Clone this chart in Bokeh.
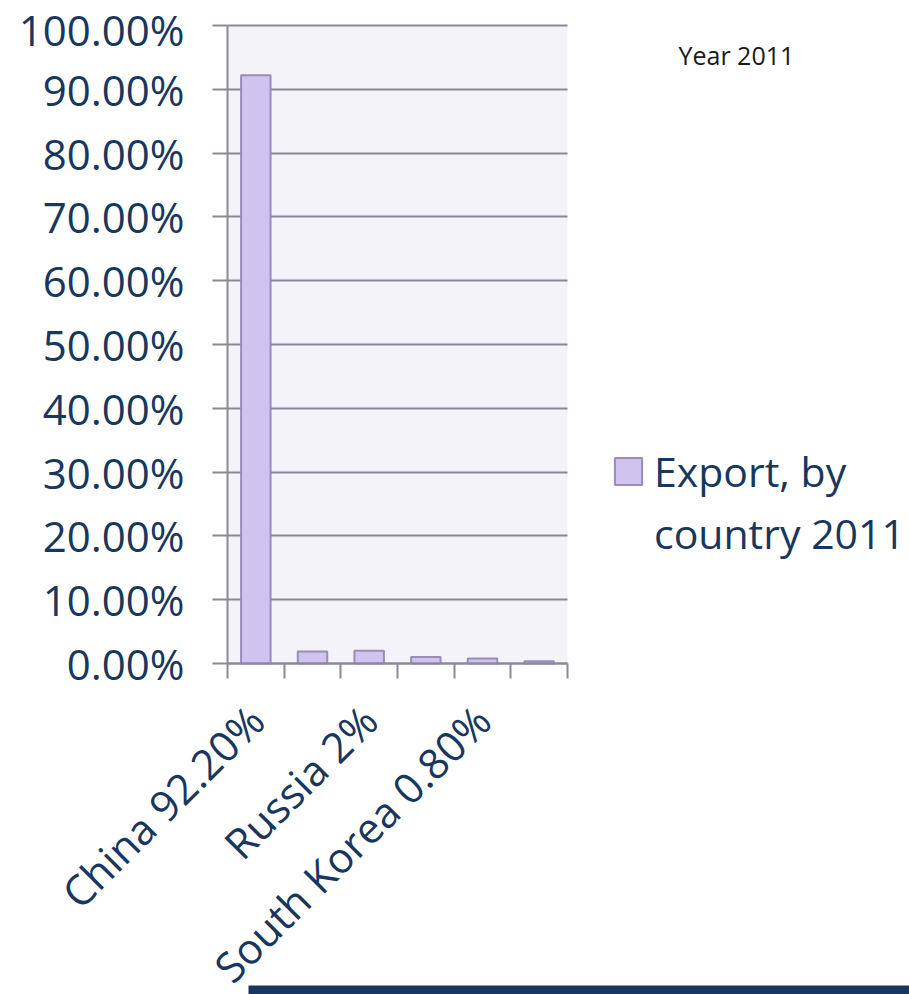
from math import pi
from bokeh.plotting import figure
from bokeh.models import (FixedTicker, NumeralTickFormatter, Legend, LegendItem,
                          Label, BoxAnnotation, Range1d, ColumnDataSource)
from bokeh.embed import file_html
from bokeh.resources import INLINE

# ---- data ----
cat_labels = ["China 92.20%", "", "Russia 2%", "", "South Korea 0.80%", ""]
export_share = [0.922, 0.019, 0.020, 0.010, 0.008, 0.0035]
y_ticks = [0.0, 0.1, 0.2, 0.3, 0.4, 0.5, 0.6, 0.7, 0.8, 0.9, 1.0]
series_lines = ["Export, by", "country 2011"]
note_text = "Year 2011"

TEXT = "#17375e"
GRAY = "#8a8a96"
FONT = "Open Sans"

# ---- layout (pixels) ----
W, H = 909, 994
LEFT, TOP = 227, 25       # position of the plot area's top-left corner
n = len(cat_labels)
CAT_PX = 340 / n          # width of one category
UNIT_PX = 638             # height of 100 %

x_range = Range1d(-LEFT / CAT_PX, (W - LEFT) / CAT_PX)
y_range = Range1d(-(H - TOP - UNIT_PX) / UNIT_PX, 1 + TOP / UNIT_PX)

xs = [i + 0.5 for i in range(n)]
src = ColumnDataSource(dict(x=xs, top=export_share))

p = figure(width=W, height=H, output_backend="svg", toolbar_location=None,
           x_range=x_range, y_range=y_range,
           min_border_left=0, min_border_right=0,
           min_border_top=0, min_border_bottom=0)
p.background_fill_color = "white"
p.border_fill_color = "white"
p.outline_line_color = None

# plot-area background (only behind the categories)
p.add_layout(BoxAnnotation(left=0, right=n, bottom=0, top=1, level="image",
                           fill_color="#f5f3fa", fill_alpha=1, line_color=None))

r = p.vbar(x="x", top="top", width=0.52, source=src,
           fill_color="#d1c3ef", line_color="#9a8cb9", line_width=2)

# x axis, fixed at y = 0
label_pos = [xs[i] for i, t in enumerate(cat_labels) if t]
xa = p.xaxis[0]
xa.fixed_location = 0
xa.bounds = (0, n)
xa.ticker = FixedTicker(ticks=label_pos, minor_ticks=list(range(n + 1)))
xa.major_label_overrides = {xs[i]: t for i, t in enumerate(cat_labels) if t}
xa.major_label_orientation = pi / 4
xa.major_tick_line_color = None
xa.major_tick_out = 0
xa.major_tick_in = 0
xa.minor_tick_line_color = GRAY
xa.minor_tick_line_width = 2
xa.minor_tick_out = 15
xa.minor_tick_in = 0
xa.axis_line_color = GRAY
xa.axis_line_width = 2
xa.major_label_text_font = FONT
xa.major_label_text_font_size = "42px"
xa.major_label_text_color = TEXT
xa.major_label_standoff = 34
p.xgrid.grid_line_color = None

# y axis, fixed at x = 0
ya = p.yaxis[0]
ya.fixed_location = 0
ya.bounds = (0, 1)
ya.ticker = FixedTicker(ticks=y_ticks)
ya.formatter = NumeralTickFormatter(format="0.00%")
ya.major_tick_line_color = GRAY
ya.major_tick_line_width = 2
ya.major_tick_out = 15
ya.major_tick_in = 0
ya.minor_tick_line_color = None
ya.axis_line_color = GRAY
ya.axis_line_width = 2
ya.major_label_text_font = FONT
ya.major_label_text_font_size = "42px"
ya.major_label_text_color = TEXT
ya.major_label_standoff = 28

yg = p.ygrid[0]
try:
    yg.cross_bounds = (0, n)
    yg.grid_line_color = GRAY
    yg.grid_line_width = 2
except Exception:
    yg.grid_line_color = None
    p.segment(x0=[0] * len(y_ticks), x1=[n] * len(y_ticks), y0=y_ticks, y1=y_ticks,
              line_color=GRAY, line_width=2, level="underlay")

# legend: glyph next to the first line of the series name
ghost = p.vbar(x="x", top="top", width=0.52, source=src,
               fill_alpha=0, line_alpha=0, visible=False)
legend = Legend(items=[LegendItem(label=series_lines[0], renderers=[r]),
                       LegendItem(label=series_lines[1], renderers=[ghost])],
                location=(611, 433), orientation="vertical",
                label_text_font=FONT, label_text_font_size="41px",
                label_text_color=TEXT, glyph_width=34, glyph_height=34,
                label_standoff=9, padding=0, margin=0, spacing=6,
                border_line_color=None, background_fill_alpha=0)
p.add_layout(legend, "center")

# note
p.add_layout(Label(x=(678 - LEFT) / CAT_PX, y=0.953, text=note_text,
                   text_font=FONT, text_font_size="25px", text_color="#1a1a1a",
                   text_baseline="alphabetic"))

# decorative rule along the bottom
p.add_layout(BoxAnnotation(left=(248 - LEFT) / CAT_PX,
                           top=(TOP + UNIT_PX - 985) / UNIT_PX,
                           fill_color=TEXT, fill_alpha=1, line_color=None))

open("out.html", "w").write(file_html(p, INLINE))
